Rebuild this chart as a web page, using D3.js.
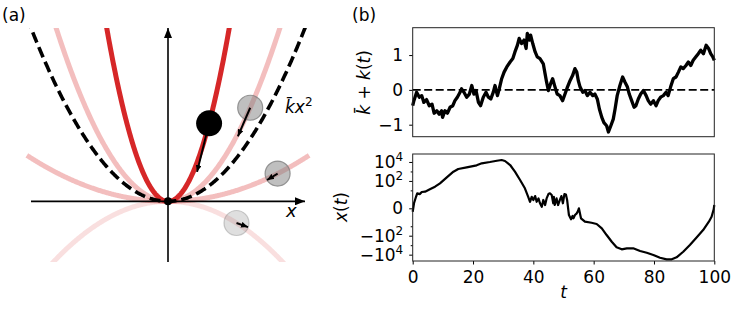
<!DOCTYPE html>
<html>
<head>
<meta charset="utf-8">
<script src="https://cdn.jsdelivr.net/npm/d3@7"></script>
<style>
body { margin: 0; background: #fff; }
text { font-family: "DejaVu Sans", sans-serif; }
</style>
</head>
<body>
<div class="canvas"></div>
<script>
// panel (a): potentials k x^2
const kBar = 2;
const kCurves = [-1, 3, 0.5, 10];
const ballK = [10, 3, 0.5, -1];
const ballX = [0.3, 0.6, 0.8, 0.5];
const arrowDX = [-0.088, -0.09, -0.077, 0.084];
const arrowDY = [-0.56, -0.33, -0.074, -0.047];

// panel (b) top: kbar + k(t)
const tK = [0, 0.4, 1.3, 2.2, 3.0, 3.7, 4.6, 5.5, 6.4, 7.1, 8.0, 8.8, 9.6, 9.9, 10.7, 11.5, 12.4, 13.3, 14.0, 14.8,
  15.7, 16.2, 17.0, 17.9, 18.8, 19.6, 20.3, 21.0, 21.8, 22.5, 23.4, 24.3, 25.1, 25.9, 26.7, 27.3, 28.1, 28.7, 29.5, 30.3,
  31.2, 32.3, 33.2, 33.9, 34.7, 35.3, 36.1, 36.9, 37.6, 38.0, 38.7, 39.1, 39.8, 40.6, 41.3, 42.2, 43.3, 43.9, 44.4, 45.0,
  45.7, 46.4, 47.2, 47.9, 48.8, 49.7, 50.5, 51.3, 52.2, 53.0, 53.8, 54.4, 54.9, 55.5, 56.4, 57.1, 57.9, 58.8, 59.7, 60.4,
  61.2, 61.9, 62.7, 63.4, 64.3, 64.9, 65.7, 66.5, 67.1, 67.8, 68.7, 69.6, 70.4, 71.2, 71.8, 72.6, 73.4, 74.0, 74.8, 75.6,
  76.5, 77.4, 78.1, 78.9, 79.8, 80.7, 81.4, 82.2, 83.1, 84.0, 84.7, 85.5, 86.4, 87.3, 88.1, 88.9, 89.7, 90.6, 91.4, 92.2,
  93.0, 93.9, 94.7, 95.5, 96.4, 97.3, 98.1, 98.8, 99.5, 100];
const kVals = [-0.455, -0.31, -0.07, -0.21, -0.165, -0.36, -0.28, -0.455, -0.41, -0.67, -0.6, -0.7, -0.6, -0.79, -0.6, -0.67, -0.5, -0.455, -0.31, -0.21,
  -0.07, 0.03, -0.07, -0.21, -0.12, 0.125, -0.12, -0.02, -0.36, -0.455, -0.21, -0.07, -0.21, -0.26, -0.07, 0.125, -0.165, 0.03, 0.32, 0.51,
  0.66, 0.8, 0.9, 1.09, 1.28, 1.48, 1.33, 1.43, 1.19, 1.62, 1.43, 1.57, 1.33, 1.09, 0.95, 0.9, 0.75, 0.46, 0.22, -0.02,
  0.17, 0.32, 0.08, -0.12, -0.165, -0.31, -0.12, 0.08, 0.27, 0.41, 0.61, 0.51, 0.27, 0.08, -0.07, -0.02, -0.165, -0.07, -0.165, -0.12,
  -0.26, -0.55, -0.79, -0.94, -1.03, -1.21, -1.03, -0.84, -0.55, -0.165, 0.125, 0.37, 0.22, 0.08, -0.12, -0.31, -0.5, -0.455, -0.26, -0.12,
  -0.02, -0.165, -0.31, -0.41, -0.31, -0.455, -0.31, -0.21, -0.165, -0.07, -0.165, 0.08, 0.32, 0.37, 0.51, 0.66, 0.61, 0.7, 0.8, 0.7,
  0.85, 0.95, 1.04, 1.14, 1.04, 1.28, 1.19, 1.04, 0.95, 0.85];

// panel (b) bottom: x(t), symlog axis
const tX = [0, 0.43, 1.1, 1.5, 2.4, 3.0, 4.1, 5.7, 7.4, 9.05, 11.3, 13.5, 15.1, 17.9, 21.2, 22.9, 25.6, 27.9, 29.5, 30.6,
  32.3, 33.9, 35.6, 37.2, 38.3, 38.9, 39.45, 40.0, 40.6, 41.1, 41.7, 42.2, 42.8, 43.3, 43.9, 44.4, 45.0, 45.5, 46.1, 46.6,
  46.8, 47.1, 47.7, 48.2, 48.8, 49.3, 49.8, 50.3, 50.8, 51.2, 51.6, 51.8, 52.5, 53.0, 53.3, 53.8, 54.4, 54.8, 55.1, 55.5,
  55.8, 57.1, 59.3, 61.0, 62.7, 64.3, 66.0, 67.6, 69.3, 71.0, 73.1, 75.4, 77.6, 79.8, 82.0, 84.2, 85.9, 87.5, 89.7, 91.9,
  94.2, 96.3, 98.2, 99.1, 99.8, 100];
const xVals = [-0.17, 0.31, 2.0, 4.8, 4.0, 6.7, 7.2, 13, 24.5, 56, 240, 940, 1800, 2730, 4430, 7200, 9900, 13500, 16000, 12600,
  4760, 940, 125, 16.6, 2.0, 0.5, 2.0, 0.85, 2.4, 0.5, 1.3, 0.31, 0.06, 0.85, 0.16, 1.3, 4.0, 4.8, 3.1, 0.31,
  2.0, 0.16, 1.3, 0.16, 0.85, 2.4, 0.31, 4.0, 3.6, 0.85, -0.07, -0.53, -1.74, -0.71, -1.34, -0.53, -0.31, -0.12, 0, -0.39,
  -1.34, -3.2, -4.2, -5.7, -16.6, -85, -433, -1680, -2730, -2140, -2140, -4100, -6240, -10800, -21000, -31000, -31000, -19000, -4900, -960,
  -148, -25, -3.2, -0.87, -0.04, 0.16];

const tTicks = [0, 20, 40, 60, 80, 100];
const kTicks = [-1, 0, 1];
const xTicks = [-1e4, -1e2, 0, 1e2, 1e4];
const xMinorTicks = [-1e3, -10, 10, 1e3];

const svg = d3.select('.canvas').append('svg')
    .attr('width', 748)
    .attr('height', 313)
    .style('display', 'block');

const defs = svg.append('defs');
function marker(id, len, wid) {
    defs.append('marker')
        .attr('id', id)
        .attr('viewBox', `0 ${-wid / 2} ${len} ${wid}`)
        .attr('refX', len).attr('refY', 0)
        .attr('markerWidth', len).attr('markerHeight', wid)
        .attr('markerUnits', 'userSpaceOnUse')
        .attr('orient', 'auto')
        .append('path')
        .attr('d', `M0,${-wid / 2}L${len},0L0,${wid / 2}Z`)
        .attr('fill', 'black');
}
marker('axhead', 10, 8);
marker('ballhead', 7, 6);

// ---------------- panel (a)
const ax = d3.scaleLinear().domain([-1, 1]).range([31, 305]);
const ay = d3.scaleLinear().domain([-0.7, 2]).range([262, 28]);

defs.append('clipPath').attr('id', 'clipA')
    .append('rect')
    .attr('x', 0).attr('y', ay.range()[1])
    .attr('width', 340).attr('height', ay.range()[0] - ay.range()[1]);

const xs = d3.range(-1.03, 1.0301, 0.005);
const parab = k => d3.line().x(d => ax(d)).y(d => ay(k * d * d))(xs);

const curves = svg.append('g').attr('clip-path', 'url(#clipA)');
kCurves.forEach(k => {
    curves.append('path')
        .attr('d', parab(k))
        .attr('fill', 'none')
        .attr('stroke', '#d62728')
        .attr('stroke-opacity', k === 10 ? 1 : (k < 0 ? 0.15 : 0.3))
        .attr('stroke-width', 5);
});
curves.append('path')
    .attr('d', parab(kBar))
    .attr('fill', 'none')
    .attr('stroke', 'black')
    .attr('stroke-width', 3.6)
    .attr('stroke-dasharray', '11,5');

// axes with arrows
svg.append('line')
    .attr('x1', ax(-1)).attr('x2', ax(1))
    .attr('y1', ay(0)).attr('y2', ay(0))
    .attr('stroke', 'black').attr('stroke-width', 1.6)
    .attr('marker-end', 'url(#axhead)');
svg.append('line')
    .attr('x1', ax(0)).attr('x2', ax(0))
    .attr('y1', ay(-0.7)).attr('y2', ay(2))
    .attr('stroke', 'black').attr('stroke-width', 1.6)
    .attr('marker-end', 'url(#axhead)');

svg.append('circle')
    .attr('cx', ax(0)).attr('cy', ay(0)).attr('r', 4)
    .attr('fill', 'black');

// balls and their arrows
ballK.forEach((k, i) => {
    const cx = ballX[i], cy = k * ballX[i] * ballX[i];
    const g = svg.append('g');
    if (i === 0) {
        g.append('circle').attr('cx', ax(cx)).attr('cy', ay(cy)).attr('r', 13).attr('fill', 'black');
    } else {
        g.append('circle').attr('cx', ax(cx)).attr('cy', ay(cy)).attr('r', 12.5)
            .attr('fill', 'gray').attr('fill-opacity', k < 0 ? 0.25 : 0.5)
            .attr('stroke', 'gray').attr('stroke-opacity', k < 0 ? 0.4 : 0.8).attr('stroke-width', 1.2);
    }
    g.append('line')
        .attr('x1', ax(cx)).attr('y1', ay(cy))
        .attr('x2', ax(cx + arrowDX[i])).attr('y2', ay(cy + arrowDY[i]))
        .attr('stroke', 'black').attr('stroke-width', 2)
        .attr('marker-end', 'url(#ballhead)');
});

svg.append('text').attr('x', 2).attr('y', 21).attr('font-size', 17).text('(a)');

const kx = svg.append('text').attr('x', 285).attr('y', 113).attr('font-size', 17);
kx.append('tspan').attr('font-style', 'italic').text('k\u0304x');
kx.append('tspan').attr('font-size', 12).attr('dy', -7).text('2');

svg.append('text').attr('x', 286).attr('y', 217).attr('font-size', 18)
    .attr('font-style', 'italic').text('x');

// ---------------- panel (b)
const tx = d3.scaleLinear().domain([0, 100]).range([412.7, 714.3]);
const ky = d3.scaleLinear().domain([-1.345, 1.786]).range([136.7, 27.7]);
const xy = d3.scaleSymlog().constant(0.13).domain([-46500, 69000]).range([261, 154]);

svg.append('text').attr('x', 352).attr('y', 21).attr('font-size', 17).text('(b)');

function styleAxis(g) {
    g.select('.domain').remove();
    g.selectAll('text').attr('font-size', 17).attr('font-family', 'DejaVu Sans').attr('fill', 'black');
    g.selectAll('line').attr('stroke', 'black').attr('stroke-width', 1);
}

// top axes
svg.append('line')
    .attr('x1', tx(0)).attr('x2', tx(100))
    .attr('y1', ky(0)).attr('y2', ky(0))
    .attr('stroke', 'black').attr('stroke-width', 1.8)
    .attr('stroke-dasharray', '8,3.5');

svg.append('path')
    .datum(tK.map((t, i) => [t, kVals[i]]))
    .attr('d', d3.line().x(d => tx(d[0])).y(d => ky(d[1])))
    .attr('fill', 'none')
    .attr('stroke', 'black')
    .attr('stroke-width', 3.3)
    .attr('stroke-linejoin', 'round');

svg.append('g')
    .attr('transform', `translate(${tx(0)},0)`)
    .call(d3.axisLeft(ky).tickValues(kTicks).tickSize(3.5).tickPadding(6)
        .tickFormat(d => d < 0 ? '\u2212' + Math.abs(d) : d))
    .call(styleAxis);

svg.append('rect')
    .attr('x', tx(0)).attr('y', ky.range()[1])
    .attr('width', tx(100) - tx(0)).attr('height', ky.range()[0] - ky.range()[1])
    .attr('fill', 'none').attr('stroke', '#222').attr('stroke-width', 1);

const kl = svg.append('text')
    .attr('transform', 'translate(370,82.5) rotate(-90)')
    .attr('text-anchor', 'middle').attr('font-size', 17);
kl.append('tspan').attr('font-style', 'italic').text('k\u0304');
kl.append('tspan').text(' + ');
kl.append('tspan').attr('font-style', 'italic').text('k');
kl.append('tspan').text('(');
kl.append('tspan').attr('font-style', 'italic').text('t');
kl.append('tspan').text(')');

// bottom axes
svg.append('path')
    .datum(tX.map((t, i) => [t, xVals[i]]))
    .attr('d', d3.line().x(d => tx(d[0])).y(d => xy(d[1])))
    .attr('fill', 'none')
    .attr('stroke', 'black')
    .attr('stroke-width', 2.2)
    .attr('stroke-linejoin', 'round');

svg.append('g')
    .attr('transform', `translate(${tx(0)},0)`)
    .call(d3.axisLeft(xy).tickValues(xTicks).tickSize(3.5).tickPadding(6))
    .call(styleAxis)
    .selectAll('text')
    .each(function(d) {
        const t = d3.select(this).text('');
        if (d === 0) { t.text('0'); return; }
        t.append('tspan').text((d < 0 ? '\u2212' : '') + '10');
        t.append('tspan').attr('font-size', 12).attr('dy', '-0.55em')
            .text(Math.round(Math.log10(Math.abs(d))));
    });

svg.append('g')
    .attr('transform', `translate(${tx(0)},0)`)
    .call(d3.axisLeft(xy).tickValues(xMinorTicks).tickSize(2).tickFormat(''))
    .call(styleAxis);

svg.append('g')
    .attr('transform', `translate(0,${xy.range()[0]})`)
    .call(d3.axisBottom(tx).tickValues(tTicks).tickSize(3.5).tickPadding(6))
    .call(styleAxis);

svg.append('rect')
    .attr('x', tx(0)).attr('y', xy.range()[1])
    .attr('width', tx(100) - tx(0)).attr('height', xy.range()[0] - xy.range()[1])
    .attr('fill', 'none').attr('stroke', '#222').attr('stroke-width', 1);

const xl = svg.append('text')
    .attr('transform', 'translate(347,207) rotate(-90)')
    .attr('text-anchor', 'middle').attr('font-size', 17);
xl.append('tspan').attr('font-style', 'italic').text('x');
xl.append('tspan').text('(');
xl.append('tspan').attr('font-style', 'italic').text('t');
xl.append('tspan').text(')');

svg.append('text')
    .attr('x', tx(50)).attr('y', 298)
    .attr('text-anchor', 'middle').attr('font-size', 17)
    .attr('font-style', 'italic').text('t');
</script>
</body>
</html>
